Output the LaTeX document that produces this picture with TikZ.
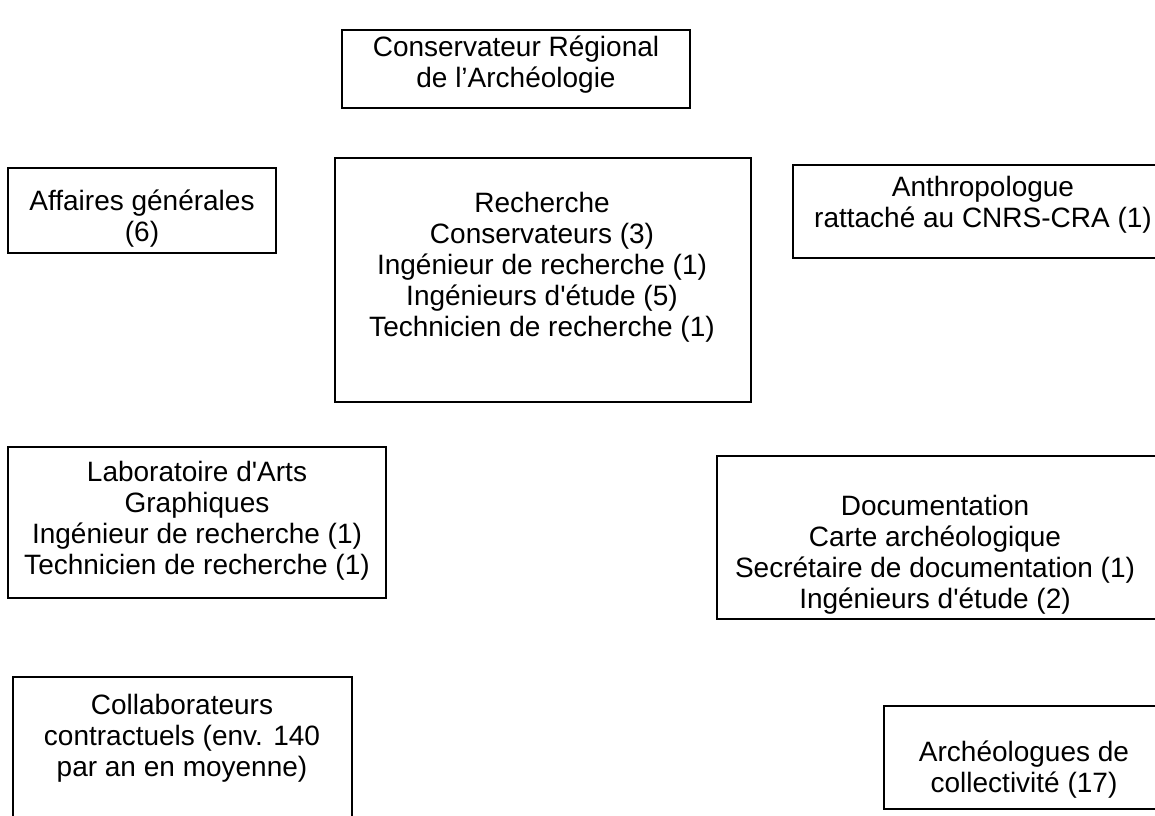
\documentclass[tikz,border=0pt]{standalone}
\usepackage{fontspec}
\newfontfamily\orgfont{Liberation Sans}

\begin{document}
\begin{tikzpicture}[
  x=0.5pt, y=-0.5pt,
  font=\orgfont\fontsize{14}{15.5}\selectfont,
  box/.style={draw=black, line width=1pt},
  lab/.style={align=center, inner sep=0pt}
]
\path[use as bounding box] (0,0) rectangle (1155,815);
\clip (0,0) rectangle (1155,815);

% top
\draw[box] (342,30) rectangle (690,108);
\node[lab] (cra) at (516,65) {Conservateur Régional\\de l’Archéologie};

% second row
\draw[box] (8,168) rectangle (276,253);
\node[lab] (affaires) at (142,219) {Affaires générales\\(6)};
\draw[box] (335,158) rectangle (751,402);
\node[lab] (recherche) at (542,267) {Recherche\\Conservateurs (3)\\Ingénieur de recherche (1)\\Ingénieurs d'étude (5)\\Technicien de recherche (1)};
\draw[box] (793,165) rectangle (1170,258);
\node[lab] (anthropo) at (983,205) {Anthropologue\\rattaché au CNRS-CRA (1)};

% third row
\draw[box] (8,447) rectangle (386,598);
\node[lab] (labo) at (197,521) {Laboratoire d'Arts\\Graphiques\\Ingénieur de recherche (1)\\Technicien de recherche (1)};
\draw[box] (717,456) rectangle (1170,619);
\node[lab] (docu) at (935,555) {Documentation\\Carte archéologique\\Secrétaire de documentation (1)\\Ingénieurs d'étude (2)};

% bottom
\draw[box] (13,677) rectangle (352,830);
\node[lab] (collab) at (182,738) {Collaborateurs\\contractuels (env. 140\\par an en moyenne)};
\draw[box] (884,706) rectangle (1170,809);
\node[lab] (archeo) at (1024,770) {Archéologues de\\collectivité (17)};
\end{tikzpicture}
\end{document}
